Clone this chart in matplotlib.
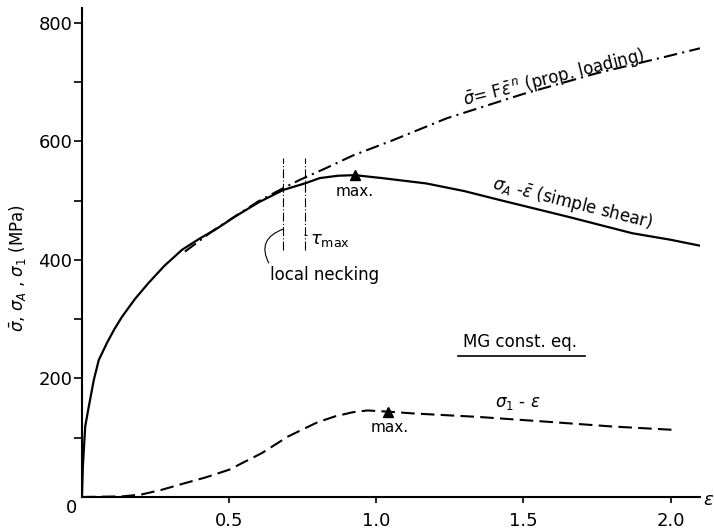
import numpy as np
import matplotlib
matplotlib.use('Agg')
import matplotlib.pyplot as plt

# Datos (deformación equivalente vs tensión en MPa)
eps_A = [0, 0.003, 0.011, 0.023, 0.04, 0.057, 0.085, 0.11, 0.136, 0.18, 0.226, 0.28,
         0.34, 0.40, 0.453, 0.52, 0.6, 0.684, 0.757, 0.808, 0.87, 0.927, 1.02, 1.17,
         1.3, 1.42, 1.65, 1.87, 2.0, 2.1]
sig_A = [0, 51, 119, 152, 197, 231, 260, 283, 304, 334, 361, 390,
         417, 436, 451, 473, 497, 518, 529, 538, 542, 543, 538, 529,
         516, 501, 473, 445, 434, 424]

eps_F = [0.35, 0.45, 0.6, 0.684, 0.74, 0.83, 0.92, 1.057, 1.24, 1.5, 1.75, 1.985, 2.1]
sig_F = [414, 451, 499, 521, 535, 555, 576, 602, 639, 680, 715, 743, 757]

eps_1 = [0, 0.136, 0.2, 0.27, 0.34, 0.42, 0.5, 0.611, 0.7, 0.8, 0.86, 0.92, 0.97, 1.04,
         1.125, 1.35, 1.58, 1.8, 2.02]
sig_1 = [0, 1, 4, 12, 22, 33, 46, 74, 102, 126, 136, 143, 146, 144,
         141, 135, 127, 119, 113]

max_A = (0.927, 543)
max_1 = (1.04, 144)
necking_x = [0.684, 0.757]
necking_y = (417, 572)

xticks = [0.5, 1.0, 1.5, 2.0]
xticklabels = ['0.5', '1.0', '1.5', '2.0']
yticks = [200, 400, 600, 800]
yminor = [100, 300, 500, 700]

fig = plt.figure(figsize=(7.14, 5.29), dpi=100)
ax = fig.add_axes([0.1148, 0.0605, 0.8655, 0.9244])

# Curvas
ax.plot(eps_A, sig_A, color='black', lw=1.6, solid_capstyle='round')
ax.plot(eps_F, sig_F, color='black', lw=1.5, dashes=(6.5, 2.5, 1, 2.5))
ax.plot(eps_1, sig_1, color='black', lw=1.5, dashes=(6.5, 3))

# Puntos máximos
ax.plot(*max_A, marker='^', color='black', ms=7)
ax.plot(*max_1, marker='^', color='black', ms=7)
ax.text(max_A[0], max_A[1] - 28, 'max.', fontsize=11, ha='center', va='center')
ax.text(max_1[0] + 0.005, max_1[1] - 27, 'max.', fontsize=11, ha='center', va='center')

# Líneas verticales de estricción
for xv in necking_x:
    ax.plot([xv, xv], necking_y, color='black', lw=0.8, dashes=(8, 2, 1, 2))

ax.annotate('local necking', xy=(necking_x[0], 452), xytext=(0.64, 375),
            fontsize=12, ha='left', va='center',
            arrowprops=dict(arrowstyle='-', lw=0.8, color='black',
                            connectionstyle='arc3,rad=-0.6',
                            shrinkA=0, shrinkB=0, relpos=(0, 1)))
ax.annotate(r'$\tau_{\mathrm{max}}$', xy=(necking_x[1], 442), xytext=(0.775, 434),
            fontsize=13, ha='left', va='center',
            arrowprops=dict(arrowstyle='-', lw=0.7, color='black',
                            shrinkA=2, shrinkB=0))

# Etiquetas de las curvas
ax.text(1.305, 652, r'$\bar{\sigma}$= F$\bar{\varepsilon}^{\,n}$ (prop. loading)',
        fontsize=12, rotation=14, rotation_mode='anchor', ha='left', va='bottom')
ax.text(1.385, 512, r'$\sigma_A$ -$\bar{\varepsilon}$ (simple shear)',
        fontsize=12, rotation=-14, rotation_mode='anchor', ha='left', va='bottom')
ax.text(1.48, 143, r'$\sigma_1$ - $\varepsilon$', fontsize=12, ha='center', va='bottom')

ax.text(1.49, 262, 'MG const. eq.', fontsize=12, ha='center', va='center')
ax.plot([1.277, 1.708], [238, 238], color='black', lw=1.2)

# Ejes
ax.set_xlim(0, 2.1)
ax.set_ylim(0, 825)
ax.spines['top'].set_visible(False)
ax.spines['right'].set_visible(False)
ax.spines['left'].set_linewidth(1.5)
ax.spines['bottom'].set_linewidth(1.5)

ax.set_xticks(xticks)
ax.set_xticklabels(xticklabels)
ax.set_yticks(yticks)
ax.set_yticks(yminor, minor=True)
ax.tick_params(axis='x', length=4, width=1.2, pad=7, labelsize=13)
ax.tick_params(axis='y', which='both', length=6, width=1.2, pad=1, labelsize=13)

ax.text(-0.037, -19, '0', fontsize=13, ha='center', va='center', clip_on=False)
ax.text(2.129, -5, r'$\varepsilon$', fontsize=13, ha='center', va='center', clip_on=False)

ax.set_ylabel(r'$\bar{\sigma}$, $\sigma_A$ , $\sigma_1$ (MPa)', fontsize=12)
ax.yaxis.set_label_coords(-0.088, 0.468)

plt.savefig('out.png', dpi=100)
